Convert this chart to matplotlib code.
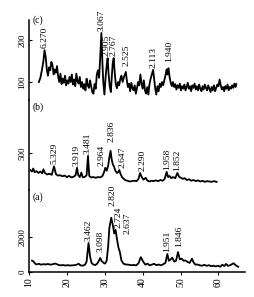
import numpy as np
import matplotlib
matplotlib.use("Agg")
import matplotlib.pyplot as plt

plt.rcParams['font.family'] = ['Liberation Serif', 'DejaVu Serif']

# ---- pattern (c) ----
tt_c = [12.6, 13.0, 13.4, 13.8, 14.1, 14.4, 14.7, 15.0, 15.3, 15.6, 15.9, 16.2, 16.5, 16.8,
        17.1, 17.4, 17.7, 18.0, 18.3, 18.6, 18.9, 19.2, 19.5, 19.8, 20.1, 20.4, 20.7, 21.0,
        21.3, 21.6, 21.9, 22.2, 22.5, 22.8, 23.1, 23.4, 23.7, 24.0, 24.3, 24.6, 24.9, 25.2,
        25.5, 25.8, 26.1, 26.4, 26.7, 27.0, 27.3, 27.6, 27.9, 28.2, 28.5, 28.8, 29.1, 29.35,
        29.6, 29.9, 30.2, 30.5, 30.75, 31.0, 31.3, 31.6, 31.9, 32.1, 32.35, 32.6, 32.9, 33.2,
        33.5, 33.8, 34.1, 34.4, 34.7, 35.0, 35.3, 35.55, 35.8, 36.1, 36.4, 36.7, 37.0, 37.3,
        37.6, 37.9, 38.2, 38.5, 38.8, 39.1, 39.4, 39.7, 40.0, 40.3, 40.6, 40.9, 41.2, 41.5,
        41.8, 42.1, 42.4, 42.75, 43.0, 43.3, 43.6, 43.9, 44.2, 44.5, 44.8, 45.1, 45.4, 45.7,
        46.0, 46.3, 46.55, 46.8, 47.1, 47.4, 47.7, 48.0, 48.3, 48.6, 48.9, 49.2, 49.5, 49.8,
        50.1, 50.4, 50.7, 51.0, 51.3, 51.6, 51.9, 52.2, 52.5, 52.8, 53.1, 53.4, 53.7, 54.0,
        54.3, 54.6, 54.9, 55.2, 55.5, 55.8, 56.1, 56.4, 56.7, 57.0, 57.3, 57.6, 57.9, 58.2,
        58.5, 58.8, 59.1, 59.4, 59.7, 60.0, 60.3, 60.6, 60.9, 61.2, 61.5, 61.8, 62.1, 62.4,
        62.7, 63.0, 63.3, 63.6, 63.9, 64.2, 64.5, 64.7]
int_c = [100, 110, 128, 150, 176, 160, 130, 115, 135, 128, 148, 140, 118, 130,
         122, 138, 112, 100, 120, 95, 108, 98, 115, 92, 104, 96, 112, 100,
         118, 94, 106, 90, 120, 102, 96, 112, 88, 100, 84, 95, 80, 108,
         92, 86, 104, 90, 76, 72, 95, 84, 118, 128, 110, 160, 217, 150,
         100, 70, 110, 140, 157, 120, 90, 76, 120, 145, 157, 125, 95, 85,
         100, 92, 108, 115, 100, 110, 118, 124, 105, 88, 96, 78, 98, 86,
         80, 92, 72, 86, 100, 92, 118, 96, 84, 104, 80, 72, 88, 70,
         95, 108, 118, 129, 110, 85, 70, 90, 78, 96, 88, 100, 92, 104,
         115, 130, 118, 133, 112, 98, 90, 100, 88, 95, 82, 92, 86, 96,
         80, 90, 84, 94, 80, 88, 98, 84, 90, 78, 92, 86, 96, 82,
         90, 80, 94, 84, 78, 90, 82, 94, 86, 80, 92, 84, 76, 88,
         80, 92, 78, 86, 94, 90, 106, 92, 82, 88, 78, 90, 84, 94,
         80, 88, 84, 92, 86, 96, 88, 95]

# ---- pattern (b) ----
tt_b = [10.3, 10.8, 11.1, 11.5, 12.0, 12.5, 13.0, 13.5, 13.8, 14.2, 14.8, 15.4, 16.0, 16.6,
        17.1, 17.6, 18.2, 18.8, 19.4, 20.0, 20.6, 21.2, 21.8, 22.3, 22.67, 23.0, 23.4, 23.8,
        24.2, 24.8, 25.2, 25.57, 25.9, 26.4, 27.0, 27.6, 28.2, 28.8, 29.4, 29.8, 30.13, 30.5,
        30.9, 31.2, 31.52, 31.8, 32.1, 32.4, 32.8, 33.2, 33.5, 33.84, 34.2, 34.6, 35.0, 35.5,
        36.0, 36.6, 37.2, 37.8, 38.4, 38.9, 39.31, 39.7, 40.2, 40.8, 41.2, 41.7, 42.3, 42.9,
        43.5, 44.1, 44.7, 45.3, 45.8, 46.33, 46.7, 47.1, 47.5, 48.0, 48.6, 49.15, 49.6, 50.1,
        50.6, 51.1, 51.6, 52.2, 52.8, 53.4, 54.0, 54.6, 55.2, 55.8, 56.4, 57.0, 57.6, 58.2,
        58.8, 59.5]
int_b = [270, 250, 290, 240, 255, 230, 250, 225, 280, 230, 210, 220, 205, 320,
         215, 195, 200, 185, 195, 175, 190, 170, 180, 200, 300, 200, 175, 235,
         170, 180, 200, 460, 190, 170, 175, 165, 175, 170, 190, 240, 300, 260,
         330, 440, 530, 420, 350, 320, 260, 230, 240, 270, 210, 170, 150, 130,
         125, 115, 120, 125, 120, 150, 230, 180, 140, 165, 130, 115, 125, 120,
         130, 120, 135, 125, 150, 245, 175, 190, 160, 175, 160, 230, 180, 165,
         150, 160, 135, 145, 125, 135, 120, 130, 115, 125, 110, 120, 115, 110,
         120, 110]

# ---- pattern (a) ----
tt_a = [10.8, 11.2, 11.6, 12.0, 12.6, 13.2, 13.8, 14.4, 15.0, 15.6, 16.2, 16.8, 17.2, 17.8,
        18.4, 19.0, 19.6, 20.2, 20.8, 21.4, 22.0, 22.6, 23.1, 23.6, 24.2, 24.8, 25.2, 25.71,
        26.1, 26.5, 27.0, 27.5, 28.0, 28.4, 28.79, 29.2, 29.7, 30.1, 30.5, 30.9, 31.2, 31.7,
        32.1, 32.5, 32.85, 33.2, 33.6, 33.97, 34.4, 34.9, 35.5, 36.2, 36.9, 37.6, 38.3, 38.9,
        39.5, 40.1, 40.7, 41.3, 41.8, 42.4, 43.0, 43.6, 44.2, 44.8, 45.4, 46.0, 46.51, 46.9,
        47.3, 47.8, 48.3, 48.8, 49.32, 49.8, 50.3, 50.8, 51.3, 51.8, 52.4, 53.0, 53.4, 53.9,
        54.5, 55.1, 55.7, 56.3, 56.9, 57.5, 58.1, 58.7, 59.3, 59.9, 60.5, 61.0, 61.5, 62.0,
        62.5, 63.0, 63.5, 64.0, 64.5, 65.2]
int_a = [650, 600, 480, 430, 470, 420, 450, 430, 460, 420, 440, 480, 460, 400,
         380, 400, 370, 390, 370, 380, 390, 420, 470, 380, 360, 420, 600, 1660,
         900, 520, 420, 400, 480, 620, 800, 620, 520, 480, 650, 1500, 2500, 3100,
         2700, 2200, 2400, 1900, 1400, 1150, 650, 480, 430, 420, 390, 400, 380, 500,
         850, 600, 420, 480, 380, 420, 470, 390, 430, 380, 440, 520, 1030, 640,
         700, 820, 600, 640, 1140, 720, 760, 640, 660, 580, 520, 760, 560, 420,
         430, 380, 360, 410, 350, 390, 330, 360, 320, 360, 300, 420, 340, 460,
         350, 380, 440, 500, 390, 300]

# d-spacing labels for each pattern
d_c = ["6.270", "3.067", "2.905", "2.767", "2.525", "2.113", "1.940"]
d_b = ["5.329", "3.919", "3.481", "2.964", "2.836", "2.647", "2.290", "1.958", "1.852"]
d_a = ["3.462", "3.098", "2.820", "2.724", "2.637", "1.951", "1.846"]

# label nudges (deg, points)
nudge = {"2.905": (-0.3, 0), "2.525": (0.3, 3), "1.940": (0.3, 3), "2.964": (-0.9, 0),
         "2.836": (0.2, 5), "2.647": (0.8, 0), "2.820": (0.3, 7), "2.724": (0.7, 0),
         "2.637": (2.0, 8), "2.290": (0.6, 0), "3.098": (0, 3), "1.846": (0.3, 2)}

fig = plt.figure(figsize=(2.55, 2.97), dpi=100)
left, right = 29 / 255, 245 / 255
tops = [20, 100, 190, 272]
panels = [(tt_c, int_c, d_c, "(c)", (57, 248), [100, 200]),
          (tt_b, int_b, d_b, "(b)", (0, 1216), [500]),
          (tt_a, int_a, d_a, "(a)", (0, 4686), [0, 2000])]

for i, (tt, inten, labels, name, ylim, yt) in enumerate(panels):
    y0 = 1 - tops[i + 1] / 297
    h = (tops[i + 1] - tops[i]) / 297
    ax = fig.add_axes([left, y0, right - left, h])
    ax.plot(tt, inten, color="black", lw=1.3)
    ax.set_xlim(10, 67)
    ax.set_ylim(*ylim)
    ax.set_yticks(yt)
    ax.set_yticklabels([str(v) for v in yt], rotation=90, va="center", fontsize=6.5)
    ax.tick_params(axis="y", direction="in", length=2, pad=2, width=0.8)
    for s in ["top", "right"]:
        ax.spines[s].set_visible(False)
    ax.spines["left"].set_linewidth(1.1)
    if i < 2:
        ax.spines["bottom"].set_visible(False)
        ax.set_xticks([])
    else:
        ax.spines["bottom"].set_linewidth(1.1)
        ax.set_xticks([10, 20, 30, 40, 50, 60])
        ax.set_xticklabels(["10", "20", "30", "40", "50", "60"], rotation=90, fontsize=7)
        ax.tick_params(axis="x", direction="out", length=2, pad=2, width=0.8)
    ax.set_facecolor("none")

    ax.text(0.015, 0.97 if i > 0 else 1.06, name, transform=ax.transAxes, fontsize=7,
            ha="left", va="top")

    tt_arr = np.array(tt)
    in_arr = np.array(inten)
    for lab in labels:
        pos = 2 * np.degrees(np.arcsin(1.5406 / (2 * float(lab))))
        near = np.abs(tt_arr - pos) < 0.4
        peak = in_arr[near].max()
        dx, dy = nudge.get(lab, (0, 0))
        ax.annotate(lab, xy=(pos + dx, peak), xytext=(0, 1.5 + dy),
                    textcoords="offset points", rotation=90, ha="center", va="bottom",
                    fontsize=6.8, annotation_clip=False)

fig.savefig("out.png", dpi=100)
